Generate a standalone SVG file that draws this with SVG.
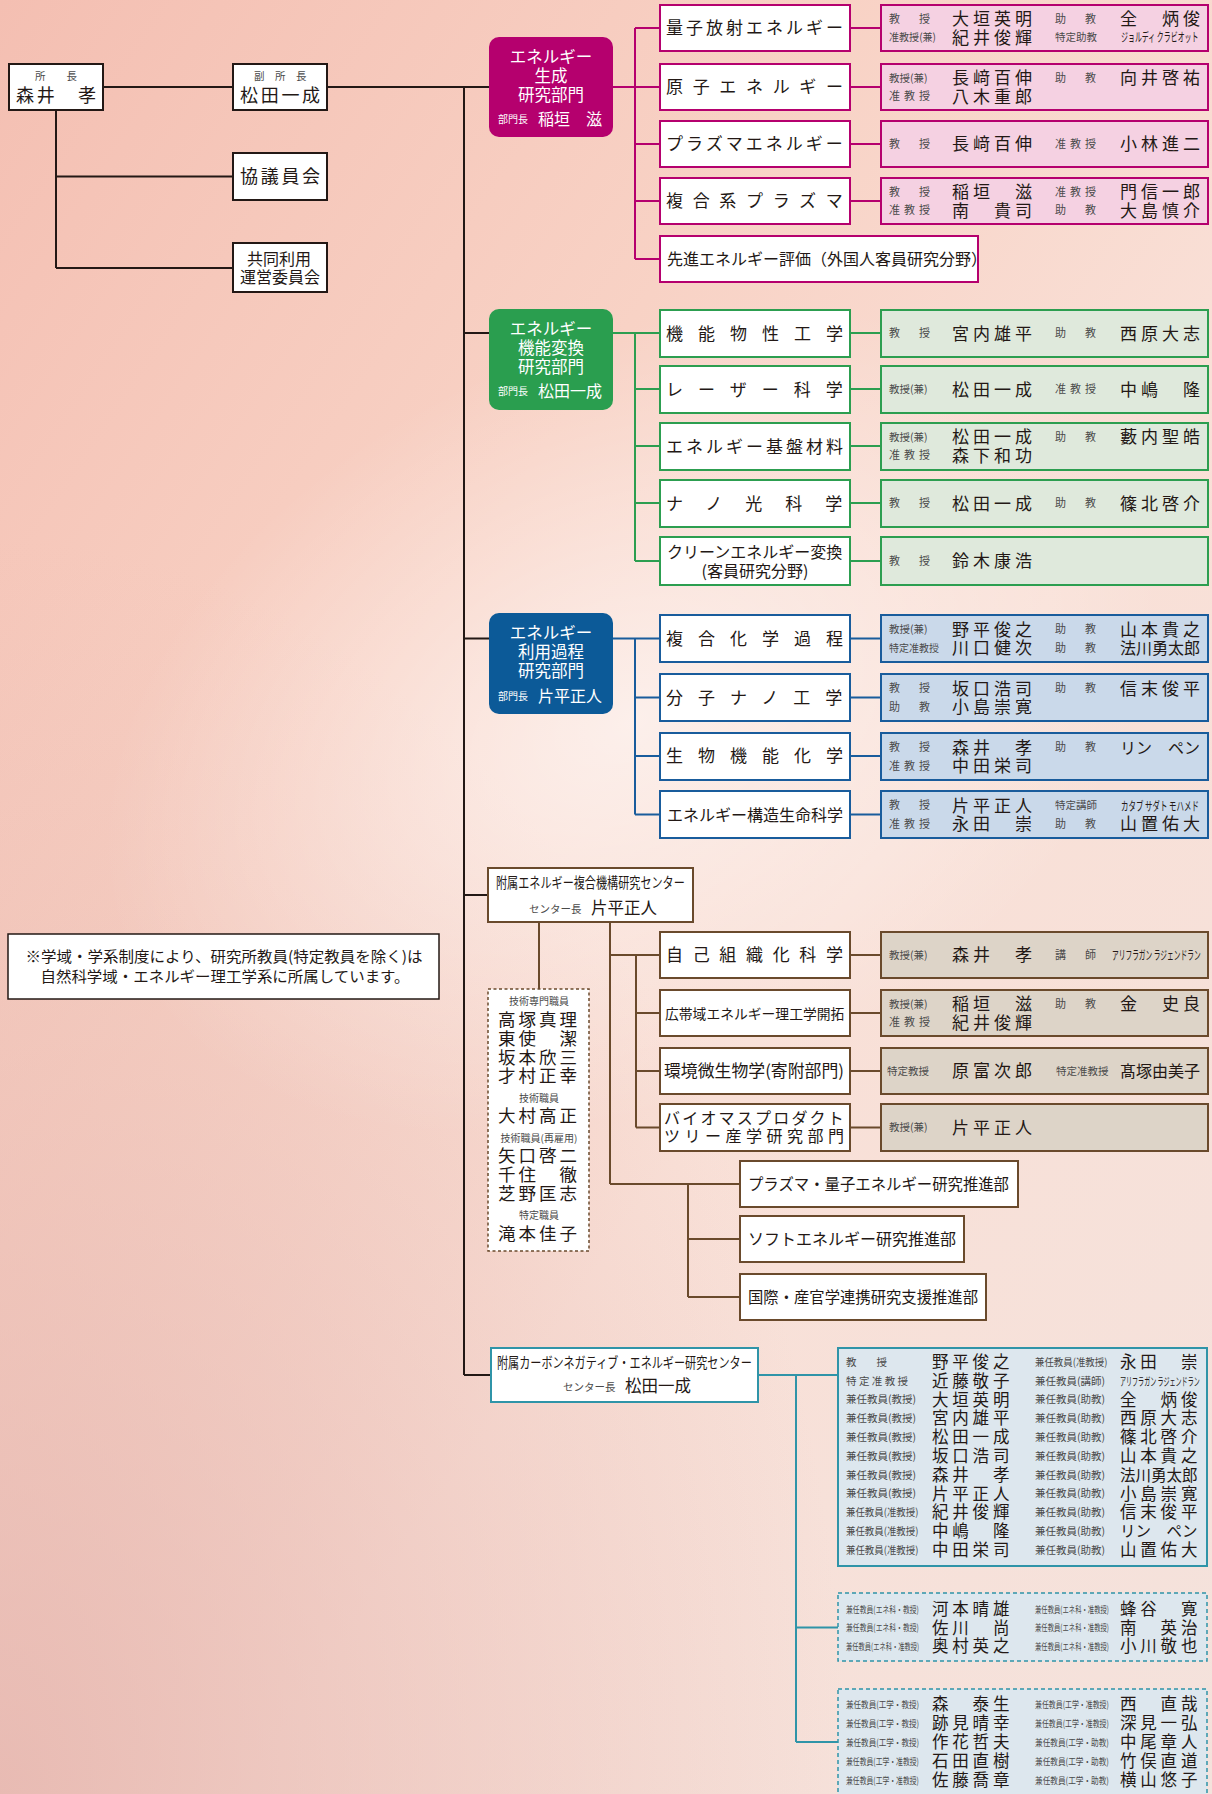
<svg xmlns="http://www.w3.org/2000/svg" width="1212" height="1794" viewBox="0 0 1212 1794">
<defs>
<linearGradient id="bg" x1="0" y1="0" x2="1" y2="1">
<stop offset="0" stop-color="#f4bfb2"/>
<stop offset="0.35" stop-color="#f8d2c5"/>
<stop offset="0.6" stop-color="#f9e0d7"/>
<stop offset="1" stop-color="#f4e2dc"/>
</linearGradient>
<radialGradient id="glow" cx="0.5" cy="0.45" r="0.45">
<stop offset="0" stop-color="#ffffff" stop-opacity="0.6"/>
<stop offset="1" stop-color="#ffffff" stop-opacity="0"/>
</radialGradient>
<radialGradient id="dk" cx="0" cy="1" r="0.7">
<stop offset="0" stop-color="#e4b3ac" stop-opacity="0.8"/>
<stop offset="1" stop-color="#e4b3ac" stop-opacity="0"/>
</radialGradient>
<style>
text{font-family:"Noto Sans CJK JP","Noto Sans CJK SC",sans-serif;fill:#231815}
.r{font-size:10.5px;fill:#4a4a4a}
.rs{font-size:11px;letter-spacing:4px;fill:#4a4a4a}
.rc{font-size:9.5px;fill:#4a4a4a}
.n{font-size:17px;letter-spacing:4px}
.n5{font-size:16px}
.nc{font-size:16.5px;letter-spacing:3.8px}
.kt{font-size:12.5px}
.l{font-size:17px}
.l16{font-size:16px}
.s3{letter-spacing:3px}
.s97{letter-spacing:9.67px}
.s15{letter-spacing:15px}
.s23{letter-spacing:23px}
.wt{fill:#fff;font-size:16.5px;text-anchor:middle}
.wr{fill:#fff;font-size:10px}
.wn{fill:#fff;font-size:16px}
.bk{fill:#fff;stroke:#231815;stroke-width:2}
.sp{fill:#fff;stroke:#b5006e;stroke-width:2}
.mp{fill:#f5d1e2;stroke:#b5006e;stroke-width:2}
.sg{fill:#fff;stroke:#2c9e50;stroke-width:2}
.mg{fill:#dfe9dc;stroke:#2c9e50;stroke-width:2}
.sb{fill:#fff;stroke:#195c9c;stroke-width:2}
.mb{fill:#cad9ea;stroke:#195c9c;stroke-width:2}
.sn{fill:#fff;stroke:#6a4a2c;stroke-width:2}
.mn{fill:#ddd4c8;stroke:#6a4a2c;stroke-width:2}
.st{fill:#fff;stroke:#2f94a8;stroke-width:2}
.mt{fill:#dde7ee;stroke:#2f94a8;stroke-width:2}
.dt{fill:#dde7ee;stroke:#2f94a8;stroke-width:1.5;stroke-dasharray:4 3}
.dn{fill:#fff;stroke:#6a4a2c;stroke-width:1.5;stroke-dasharray:3 2.5}
.lk{stroke:#231815;stroke-width:2;fill:none}
.lp{stroke:#b5006e;stroke-width:2;fill:none}
.lg{stroke:#2c9e50;stroke-width:2;fill:none}
.lb{stroke:#195c9c;stroke-width:2;fill:none}
.ln{stroke:#6a4a2c;stroke-width:2;fill:none}
.lt{stroke:#2f94a8;stroke-width:2;fill:none}
.tn{font-size:17.5px;letter-spacing:3px}
</style>
</defs>
<rect width="1212" height="1794" fill="url(#bg)"/>
<rect width="1212" height="1794" fill="url(#dk)"/>
<ellipse cx="650" cy="760" rx="620" ry="420" fill="url(#glow)" transform="rotate(-25 650 760)"/>

<g id="connectors">
<path class="lk" d="M103 87H489M56 110V268M56 176.5H233M56 268H233M464 87V1375M464 333H489M464 638.5H489M464 895H488M464 1375H491"/>
<path class="lp" d="M613 87H660M635 28V259M635 28H660M635 144H660M635 201H660M635 259H660M850 28H881M850 87H881M850 144H881M850 201H881"/>
<path class="lg" d="M613 333H660M635 333V561M635 389H660M635 446H660M635 503H660M635 561H660M850 333H881M850 389H881M850 446H881M850 503H881M850 561H881"/>
<path class="lb" d="M613 638.5H660M635 638.5V814.5M635 697.5H660M635 756H660M635 814.5H660M850 638.5H881M850 697.5H881M850 756H881M850 814.5H881"/>
<path class="ln" d="M539 922V989M610 922V1184M610 955H660M636 955V1127.5M636 1013H660M636 1071H660M636 1127.5H660M850 955H881M850 1013H881M850 1071H881M850 1127.5H881M610 1184H740M688 1184V1297M688 1239H740M688 1297H740"/>
<path class="lt" d="M758 1375H838M796 1375V1742M796 1627.5H838M796 1742H838"/>
</g>

<g id="director">
<rect class="bk" x="9" y="64" width="94" height="46"/>
<text class="r" x="35" y="80" style="letter-spacing:5.2px">所　長</text>
<text class="n" x="16" y="101.5" style="font-size:18px;letter-spacing:2.7px">森井　孝</text>
</g>
<g id="vice-director">
<rect class="bk" x="233" y="64" width="94" height="46"/>
<text class="r" x="254" y="80">副　所　長</text>
<text class="n" x="240" y="101.5" style="font-size:18px;letter-spacing:2.7px">松田一成</text>
</g>
<g id="council">
<rect class="bk" x="233" y="153" width="94" height="47"/>
<text class="n" x="240" y="183" style="font-size:18px;letter-spacing:2.7px">協議員会</text>
</g>
<g id="joint-use">
<rect class="bk" x="233" y="243" width="94" height="49"/>
<text class="l16" x="247" y="265">共同利用</text>
<text class="l16" x="240" y="283">運営委員会</text>
</g>

<g id="note">
<rect class="bk" x="8" y="934" width="431" height="65" style="stroke-width:1.5"/>
<text x="224" y="961.5" style="font-size:15px;text-anchor:middle" textLength="397" lengthAdjust="spacingAndGlyphs">※学域・学系制度により、研究所教員(特定教員を除く)は</text>
<text x="225" y="981.5" style="font-size:15px;text-anchor:middle" textLength="369" lengthAdjust="spacingAndGlyphs">自然科学域・エネルギー理工学系に所属しています。</text>
</g>

<g id="dept-generation">
<rect x="489" y="37" width="124" height="100" rx="10" fill="#b5006e"/>
<text class="wt" x="551" y="63">エネルギー</text>
<text class="wt" x="551" y="82">生成</text>
<text class="wt" x="551" y="101">研究部門</text>
<text class="wr" x="498" y="123">部門長</text>
<text class="wn" x="538" y="125">稲垣　滋</text>
</g>
<g id="gen-quantum">
<rect class="sp" x="660" y="5" width="190" height="46"/>
<text class="l s3" x="666" y="34">量子放射エネルギー</text>
<rect class="mp" x="881" y="5" width="327" height="46"/>
<text class="rs" x="889" y="22.8">教　授</text><text class="n" x="952" y="25">大垣英明</text>
<text class="rs" x="1055" y="22.8">助　教</text><text class="n" x="1120" y="25">全　炳俊</text>
<text class="r" x="889" y="41.3" textLength="47" lengthAdjust="spacingAndGlyphs">准教授(兼)</text><text class="n" x="952" y="43.5">紀井俊輝</text>
<text class="r" x="1055" y="41.3">特定助教</text><text class="kt" transform="matrix(0.556 0 0 1 1121 42)">ジョルディ クラビオット</text>
</g>
<g id="gen-nuclear">
<rect class="sp" x="660" y="64" width="190" height="46"/>
<text class="l s97" x="666" y="93">原子エネルギー</text>
<rect class="mp" x="881" y="64" width="327" height="46"/>
<text class="r" x="889" y="81.8">教授(兼)</text><text class="n" x="952" y="84">長﨑百伸</text>
<text class="rs" x="1055" y="81.8">助　教</text><text class="n" x="1120" y="84">向井啓祐</text>
<text class="rs" x="889" y="100.3">准教授</text><text class="n" x="952" y="102.5">八木重郎</text>
</g>
<g id="gen-plasma">
<rect class="sp" x="660" y="121" width="190" height="46"/>
<text class="l s3" x="666" y="150">プラズマエネルギー</text>
<rect class="mp" x="881" y="121" width="327" height="46"/>
<text class="rs" x="889" y="147.8">教　授</text><text class="n" x="952" y="150">長﨑百伸</text>
<text class="rs" x="1055" y="147.8">准教授</text><text class="n" x="1120" y="150">小林進二</text>
</g>
<g id="gen-complex-plasma">
<rect class="sp" x="660" y="178" width="190" height="46"/>
<text class="l s97" x="666" y="207">複合系プラズマ</text>
<rect class="mp" x="881" y="178" width="327" height="46"/>
<text class="rs" x="889" y="195.8">教　授</text><text class="n" x="952" y="198">稲垣　滋</text>
<text class="rs" x="1055" y="195.8">准教授</text><text class="n" x="1120" y="198">門信一郎</text>
<text class="rs" x="889" y="214.3">准教授</text><text class="n" x="952" y="216.5">南　貴司</text>
<text class="rs" x="1055" y="214.3">助　教</text><text class="n" x="1120" y="216.5">大島慎介</text>
</g>
<g id="gen-advanced">
<rect class="sp" x="660" y="236" width="318" height="46"/>
<text class="l16" x="667" y="265">先進エネルギー評価（外国人客員研究分野）</text>
</g>

<g id="dept-conversion">
<rect x="489" y="309" width="124" height="101" rx="10" fill="#2a9e4f"/>
<text class="wt" x="551" y="335">エネルギー</text>
<text class="wt" x="551" y="354">機能変換</text>
<text class="wt" x="551" y="373">研究部門</text>
<text class="wr" x="498" y="395">部門長</text>
<text class="wn" x="538" y="397">松田一成</text>
</g>
<g id="conv-functional">
<rect class="sg" x="660" y="310" width="190" height="47"/>
<text class="l s15" x="666" y="339.5">機能物性工学</text>
<rect class="mg" x="881" y="310" width="327" height="47"/>
<text class="rs" x="889" y="337.3">教　授</text><text class="n" x="952" y="339.5">宮内雄平</text>
<text class="rs" x="1055" y="337.3">助　教</text><text class="n" x="1120" y="339.5">西原大志</text>
</g>
<g id="conv-laser">
<rect class="sg" x="660" y="366" width="190" height="47"/>
<text class="l s15" x="666" y="395.5">レーザー科学</text>
<rect class="mg" x="881" y="366" width="327" height="47"/>
<text class="r" x="889" y="393.3">教授(兼)</text><text class="n" x="952" y="395.5">松田一成</text>
<text class="rs" x="1055" y="393.3">准教授</text><text class="n" x="1120" y="395.5">中嶋　隆</text>
</g>
<g id="conv-materials">
<rect class="sg" x="660" y="423" width="190" height="47"/>
<text class="l s3" x="666" y="452.5">エネルギー基盤材料</text>
<rect class="mg" x="881" y="423" width="327" height="47"/>
<text class="r" x="889" y="440.8">教授(兼)</text><text class="n" x="952" y="443">松田一成</text>
<text class="rs" x="1055" y="440.8">助　教</text><text class="n" x="1120" y="443">藪内聖皓</text>
<text class="rs" x="889" y="459.3">准教授</text><text class="n" x="952" y="461.5">森下和功</text>
</g>
<g id="conv-nano">
<rect class="sg" x="660" y="480" width="190" height="47"/>
<text class="l s23" x="666" y="509.5">ナノ光科学</text>
<rect class="mg" x="881" y="480" width="327" height="47"/>
<text class="rs" x="889" y="507.3">教　授</text><text class="n" x="952" y="509.5">松田一成</text>
<text class="rs" x="1055" y="507.3">助　教</text><text class="n" x="1120" y="509.5">篠北啓介</text>
</g>
<g id="conv-clean">
<rect class="sg" x="660" y="537" width="190" height="48"/>
<text class="l16" x="667" y="558">クリーンエネルギー変換</text>
<text class="l16" x="755" y="577" style="text-anchor:middle">(客員研究分野)</text>
<rect class="mg" x="881" y="537" width="327" height="48"/>
<text class="rs" x="889" y="564.8">教　授</text><text class="n" x="952" y="567">鈴木康浩</text>
</g>

<g id="dept-utilization">
<rect x="489" y="613" width="124" height="101" rx="10" fill="#0c5a98"/>
<text class="wt" x="551" y="639">エネルギー</text>
<text class="wt" x="551" y="658">利用過程</text>
<text class="wt" x="551" y="677">研究部門</text>
<text class="wr" x="498" y="700">部門長</text>
<text class="wn" x="538" y="702">片平正人</text>
</g>
<g id="util-chem">
<rect class="sb" x="660" y="615" width="190" height="47"/>
<text class="l s15" x="666" y="644.5">複合化学過程</text>
<rect class="mb" x="881" y="615" width="327" height="47"/>
<text class="r" x="889" y="633.3">教授(兼)</text><text class="n" x="952" y="635.5">野平俊之</text>
<text class="rs" x="1055" y="633.3">助　教</text><text class="n" x="1120" y="635.5">山本貴之</text>
<text class="r" x="889" y="651.8" style="font-size:10px">特定准教授</text><text class="n" x="952" y="654">川口健次</text>
<text class="rs" x="1055" y="651.8">助　教</text><text class="n5" x="1120" y="654">法川勇太郎</text>
</g>
<g id="util-nano">
<rect class="sb" x="660" y="674" width="190" height="47"/>
<text class="l s15" x="666" y="703.5">分子ナノ工学</text>
<rect class="mb" x="881" y="674" width="327" height="47"/>
<text class="rs" x="889" y="692.3">教　授</text><text class="n" x="952" y="694.5">坂口浩司</text>
<text class="rs" x="1055" y="692.3">助　教</text><text class="n" x="1120" y="694.5">信末俊平</text>
<text class="rs" x="889" y="710.8">助　教</text><text class="n" x="952" y="713">小島崇寛</text>
</g>
<g id="util-bio">
<rect class="sb" x="660" y="733" width="190" height="47"/>
<text class="l s15" x="666" y="762">生物機能化学</text>
<rect class="mb" x="881" y="733" width="327" height="47"/>
<text class="rs" x="889" y="751.3">教　授</text><text class="n" x="952" y="753.5">森井　孝</text>
<text class="rs" x="1055" y="751.3">助　教</text><text class="n5" x="1120" y="753.5">リン　ペン</text>
<text class="rs" x="889" y="769.8">准教授</text><text class="n" x="952" y="772">中田栄司</text>
</g>
<g id="util-struct">
<rect class="sb" x="660" y="791" width="190" height="47"/>
<text class="l16" x="667" y="820.5">エネルギー構造生命科学</text>
<rect class="mb" x="881" y="791" width="327" height="47"/>
<text class="rs" x="889" y="809.3">教　授</text><text class="n" x="952" y="811.5">片平正人</text>
<text class="r" x="1055" y="809.3">特定講師</text><text class="kt" transform="matrix(0.597 0 0 1 1121 810.5)">カタブ サダト モハメド</text>
<text class="rs" x="889" y="827.8">准教授</text><text class="n" x="952" y="830">永田　崇</text>
<text class="rs" x="1055" y="827.8">助　教</text><text class="n" x="1120" y="830">山置佑大</text>
</g>

<g id="center-complex">
<rect class="sn" x="488" y="868" width="205" height="54"/>
<text style="font-size:14.5px" transform="matrix(0.767 0 0 1 496 888)">附属エネルギー複合機構研究センター</text>
<text class="r" x="529" y="913">センター長</text>
<text x="591" y="914" style="font-size:16.5px">片平正人</text>
</g>
<g id="tech-staff">
<rect class="dn" x="488" y="989" width="101" height="262"/>
<text class="r" x="539" y="1005" style="font-size:10px;text-anchor:middle">技術専門職員</text>
<text class="r" x="539" y="1102" style="font-size:10px;text-anchor:middle">技術職員</text>
<text class="r" x="539" y="1142" style="font-size:10px;text-anchor:middle">技術職員(再雇用)</text>
<text class="r" x="539" y="1219" style="font-size:10px;text-anchor:middle">特定職員</text>
<text class="tn" x="498" y="1026.3">高塚真理</text>
<text class="tn" x="498" y="1045.3">東使　潔</text>
<text class="tn" x="498" y="1064.3">坂本欣三</text>
<text class="tn" x="498" y="1082.3">才村正幸</text>
<text class="tn" x="498" y="1122.3">大村高正</text>
<text class="tn" x="498" y="1162.3">矢口啓二</text>
<text class="tn" x="498" y="1181.3">千住　徹</text>
<text class="tn" x="498" y="1200.3">芝野匡志</text>
<text class="tn" x="498" y="1240.3">滝本佳子</text>
</g>
<g id="cc-self">
<rect class="sn" x="660" y="932" width="190" height="46"/>
<text class="l s97" x="666" y="961">自己組織化科学</text>
<rect class="mn" x="881" y="932" width="327" height="46"/>
<text class="r" x="889" y="958.8">教授(兼)</text><text class="n" x="952" y="961">森井　孝</text>
<text class="rs" x="1055" y="958.8">講　師</text><text class="kt" transform="matrix(0.538 0 0 1 1112 959.5)">アリフラガン ラジェンドラン</text>
</g>
<g id="cc-broadband">
<rect class="sn" x="660" y="990" width="190" height="46"/>
<text x="665" y="1018.5" style="font-size:13.8px">広帯域エネルギー理工学開拓</text>
<rect class="mn" x="881" y="990" width="327" height="46"/>
<text class="r" x="889" y="1007.8">教授(兼)</text><text class="n" x="952" y="1010">稲垣　滋</text>
<text class="rs" x="1055" y="1007.8">助　教</text><text class="n" x="1120" y="1010">金　史良</text>
<text class="rs" x="889" y="1026.3">准教授</text><text class="n" x="952" y="1028.5">紀井俊輝</text>
</g>
<g id="cc-microbe">
<rect class="sn" x="660" y="1048" width="190" height="46"/>
<text x="664" y="1077" style="font-size:16.5px" textLength="180" lengthAdjust="spacingAndGlyphs">環境微生物学(寄附部門)</text>
<rect class="mn" x="881" y="1048" width="327" height="46"/>
<text class="r" x="887" y="1074.8">特定教授</text><text class="n" x="952" y="1077">原富次郎</text>
<text class="r" x="1056" y="1074.8">特定准教授</text><text class="n5" x="1120" y="1077">髙塚由美子</text>
</g>
<g id="cc-biomass">
<rect class="sn" x="660" y="1104" width="190" height="47"/>
<text class="l16" x="664" y="1124" style="letter-spacing:2.2px">バイオマスプロダクト</text>
<text class="l16" x="664" y="1142" style="letter-spacing:4.5px">ツリー産学研究部門</text>
<rect class="mn" x="881" y="1104" width="327" height="47"/>
<text class="r" x="889" y="1131.3">教授(兼)</text><text class="n" x="952" y="1133.5">片平正人</text>
</g>
<g id="promo-plasma">
<rect class="sn" x="740" y="1161" width="278" height="46"/>
<text class="l16" x="748" y="1190" textLength="261" lengthAdjust="spacingAndGlyphs">プラズマ・量子エネルギー研究推進部</text>
</g>
<g id="promo-soft">
<rect class="sn" x="740" y="1216" width="224" height="46"/>
<text class="l16" x="748" y="1245">ソフトエネルギー研究推進部</text>
</g>
<g id="promo-intl">
<rect class="sn" x="740" y="1274" width="246" height="46"/>
<text class="l16" x="748" y="1303" textLength="230" lengthAdjust="spacingAndGlyphs">国際・産官学連携研究支援推進部</text>
</g>

<g id="center-carbon">
<rect class="st" x="491" y="1348" width="267" height="54"/>
<text style="font-size:14.5px" transform="matrix(0.768 0 0 1 497 1368)">附属カーボンネガティブ・エネルギー研究センター</text>
<text class="r" x="563" y="1391">センター長</text>
<text x="625" y="1392" style="font-size:16.5px">松田一成</text>
</g>
<g id="carbon-members">
<rect class="mt" x="838" y="1348" width="369" height="218"/>
<text class="r" x="846" y="1365.8" style="letter-spacing:4.75px">教　授</text><text class="nc" x="932" y="1368">野平俊之</text>
<text class="r" transform="matrix(0.9 0 0 1 1035 1365.8)">兼任教員(准教授)</text><text class="nc" x="1120" y="1368">永田　崇</text>
<text class="r" x="846" y="1384.6" style="letter-spacing:2.4px">特定准教授</text><text class="nc" x="932" y="1386.8">近藤敬子</text>
<text class="r" x="1035" y="1384.6">兼任教員(講師)</text><text style="font-size:11.5px" transform="matrix(0.526 0 0 1 1120 1385.5)">アリフラガン ラジェンドラン</text>
<text class="r" x="846" y="1403.4">兼任教員(教授)</text><text class="nc" x="932" y="1405.6">大垣英明</text>
<text class="r" x="1035" y="1403.4">兼任教員(助教)</text><text class="nc" x="1120" y="1405.6">全　炳俊</text>
<text class="r" x="846" y="1422.2">兼任教員(教授)</text><text class="nc" x="932" y="1424.4">宮内雄平</text>
<text class="r" x="1035" y="1422.2">兼任教員(助教)</text><text class="nc" x="1120" y="1424.4">西原大志</text>
<text class="r" x="846" y="1441">兼任教員(教授)</text><text class="nc" x="932" y="1443.2">松田一成</text>
<text class="r" x="1035" y="1441">兼任教員(助教)</text><text class="nc" x="1120" y="1443.2">篠北啓介</text>
<text class="r" x="846" y="1459.8">兼任教員(教授)</text><text class="nc" x="932" y="1462">坂口浩司</text>
<text class="r" x="1035" y="1459.8">兼任教員(助教)</text><text class="nc" x="1120" y="1462">山本貴之</text>
<text class="r" x="846" y="1478.6">兼任教員(教授)</text><text class="nc" x="932" y="1480.8">森井　孝</text>
<text class="r" x="1035" y="1478.6">兼任教員(助教)</text><text class="n5" x="1120" y="1480.8" style="font-size:15.5px">法川勇太郎</text>
<text class="r" x="846" y="1497.4">兼任教員(教授)</text><text class="nc" x="932" y="1499.6">片平正人</text>
<text class="r" x="1035" y="1497.4">兼任教員(助教)</text><text class="nc" x="1120" y="1499.6">小島崇寛</text>
<text class="r" transform="matrix(0.9 0 0 1 846 1516.2)">兼任教員(准教授)</text><text class="nc" x="932" y="1518.4">紀井俊輝</text>
<text class="r" x="1035" y="1516.2">兼任教員(助教)</text><text class="nc" x="1120" y="1518.4">信末俊平</text>
<text class="r" transform="matrix(0.9 0 0 1 846 1535)">兼任教員(准教授)</text><text class="nc" x="932" y="1537.2">中嶋　隆</text>
<text class="r" x="1035" y="1535">兼任教員(助教)</text><text class="n5" x="1120" y="1537.2" style="font-size:15.5px">リン　ペン</text>
<text class="r" transform="matrix(0.9 0 0 1 846 1553.8)">兼任教員(准教授)</text><text class="nc" x="932" y="1556">中田栄司</text>
<text class="r" x="1035" y="1553.8">兼任教員(助教)</text><text class="nc" x="1120" y="1556">山置佑大</text>
</g>
<g id="carbon-ene-members">
<rect class="dt" x="838" y="1593" width="369" height="68"/>
<text class="rc" transform="matrix(0.72 0 0 1 846 1612.5)">兼任教員(エネ科・教授)</text><text class="nc" x="932" y="1615">河本晴雄</text>
<text class="rc" transform="matrix(0.668 0 0 1 1035 1612.5)">兼任教員(エネ科・准教授)</text><text class="nc" x="1120" y="1615">蜂谷　寛</text>
<text class="rc" transform="matrix(0.72 0 0 1 846 1631)">兼任教員(エネ科・教授)</text><text class="nc" x="932" y="1633.5">佐川　尚</text>
<text class="rc" transform="matrix(0.668 0 0 1 1035 1631)">兼任教員(エネ科・准教授)</text><text class="nc" x="1120" y="1633.5">南　英治</text>
<text class="rc" transform="matrix(0.66 0 0 1 846 1649.5)">兼任教員(エネ科・准教授)</text><text class="nc" x="932" y="1652">奥村英之</text>
<text class="rc" transform="matrix(0.668 0 0 1 1035 1649.5)">兼任教員(エネ科・准教授)</text><text class="nc" x="1120" y="1652">小川敬也</text>
</g>
<g id="carbon-eng-members">
<rect class="dt" x="838" y="1689" width="369" height="120"/>
<text class="rc" transform="matrix(0.795 0 0 1 846 1707.5)">兼任教員(工学・教授)</text><text class="nc" x="932" y="1710">森　泰生</text>
<text class="rc" transform="matrix(0.73 0 0 1 1035 1707.5)">兼任教員(工学・准教授)</text><text class="nc" x="1120" y="1710">西　直哉</text>
<text class="rc" transform="matrix(0.795 0 0 1 846 1726.5)">兼任教員(工学・教授)</text><text class="nc" x="932" y="1729">跡見晴幸</text>
<text class="rc" transform="matrix(0.73 0 0 1 1035 1726.5)">兼任教員(工学・准教授)</text><text class="nc" x="1120" y="1729">深見一弘</text>
<text class="rc" transform="matrix(0.795 0 0 1 846 1745.5)">兼任教員(工学・教授)</text><text class="nc" x="932" y="1748">作花哲夫</text>
<text class="rc" transform="matrix(0.806 0 0 1 1035 1745.5)">兼任教員(工学・助教)</text><text class="nc" x="1120" y="1748">中尾章人</text>
<text class="rc" transform="matrix(0.72 0 0 1 846 1764.5)">兼任教員(工学・准教授)</text><text class="nc" x="932" y="1767">石田直樹</text>
<text class="rc" transform="matrix(0.806 0 0 1 1035 1764.5)">兼任教員(工学・助教)</text><text class="nc" x="1120" y="1767">竹俣直道</text>
<text class="rc" transform="matrix(0.72 0 0 1 846 1783.5)">兼任教員(工学・准教授)</text><text class="nc" x="932" y="1786">佐藤喬章</text>
<text class="rc" transform="matrix(0.806 0 0 1 1035 1783.5)">兼任教員(工学・助教)</text><text class="nc" x="1120" y="1786">横山悠子</text>
</g>
</svg>
